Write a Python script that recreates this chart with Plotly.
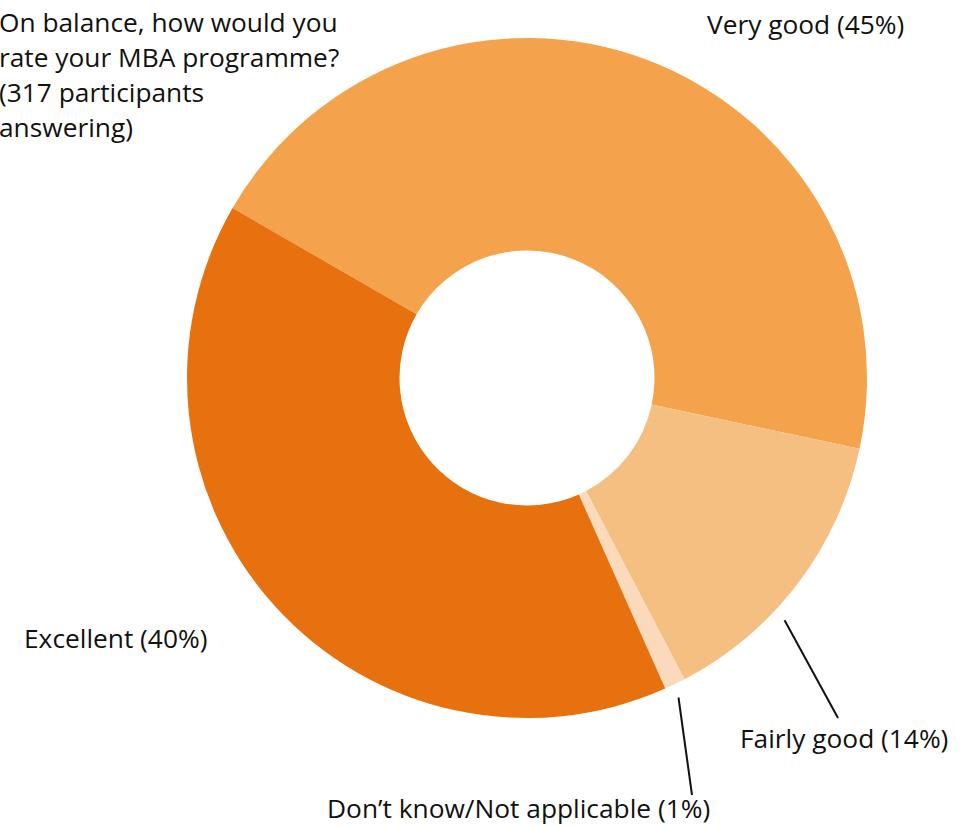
import math
import plotly.graph_objects as go

# Survey answers, in clockwise order from the slice boundary at the upper left
labels = ["Very good", "Fairly good", "Don’t know/Not applicable", "Excellent"]
shares = [45, 14, 1, 40]
colors = ["#F4A24B", "#F6BF82", "#FBDABB", "#E8710F"]

question = [
    "On balance, how would you",
    "rate your MBA programme?",
    "(317 participants",
    "answering)",
]

# Canvas and donut geometry (pixels)
W, H = 973, 826
CX, CY, R = 527, 378, 340
HOLE = 0.375
ROTATION = -60

FONT = "Open Sans"
FONT_SIZE = 26.3
TEXT_COLOR = "#111111"

# Label placement: text centre in pixels, and optional leader end point
label_layout = {
    "Very good": {"text": (805, 24), "leader": None},
    "Fairly good": {"text": (844, 738), "leader": (838, 718)},
    "Don’t know/Not applicable": {"text": (518, 808), "leader": (692, 795)},
    "Excellent": {"text": (115, 638), "leader": None},
}
LEADER_FRACTION = 0.62
LEADER_RADIUS = 1.04


def px_to_paper(x, y):
    return x / W, 1 - y / H


total = sum(shares)
fig = go.Figure(
    go.Pie(
        labels=labels,
        values=shares,
        sort=False,
        direction="clockwise",
        rotation=ROTATION,
        hole=HOLE,
        marker=dict(colors=colors, line=dict(width=0)),
        textinfo="none",
        hovertemplate="%{label}: %{value}%<extra></extra>",
        showlegend=False,
        domain=dict(
            x=[(CX - R) / W, (CX + R) / W],
            y=[1 - (CY + R) / H, 1 - (CY - R) / H],
        ),
    )
)

annotations = []
shapes = []
start = ROTATION
for name, val in zip(labels, shares):
    span = 360 * val / total
    lay = label_layout[name]
    tx, ty = px_to_paper(*lay["text"])
    annotations.append(dict(
        x=tx, y=ty, xref="paper", yref="paper",
        text=f"{name} ({round(100 * val / total)}%)",
        showarrow=False, xanchor="center", yanchor="middle",
        font=dict(family=FONT, size=FONT_SIZE, color=TEXT_COLOR),
    ))
    if lay["leader"] is not None:
        ang = math.radians(start + LEADER_FRACTION * span)
        sx = CX + LEADER_RADIUS * R * math.sin(ang)
        sy = CY - LEADER_RADIUS * R * math.cos(ang)
        x0, y0 = px_to_paper(sx, sy)
        x1, y1 = px_to_paper(*lay["leader"])
        shapes.append(dict(
            type="line", xref="paper", yref="paper",
            x0=x0, y0=y0, x1=x1, y1=y1,
            line=dict(color=TEXT_COLOR, width=2),
        ))
    start += span

# Question text, one annotation per line for tighter control of spacing
for i, line in enumerate(question):
    qx, qy = px_to_paper(-3, 22 + 35 * i)
    annotations.append(dict(
        x=qx, y=qy, xref="paper", yref="paper",
        text=line, showarrow=False, xanchor="left", yanchor="middle",
        font=dict(family=FONT, size=FONT_SIZE, color=TEXT_COLOR),
    ))

fig.update_layout(
    width=W, height=H,
    margin=dict(l=0, r=0, t=0, b=0),
    paper_bgcolor="white",
    plot_bgcolor="white",
    annotations=annotations,
    shapes=shapes,
)

fig.write_html("out.html")
